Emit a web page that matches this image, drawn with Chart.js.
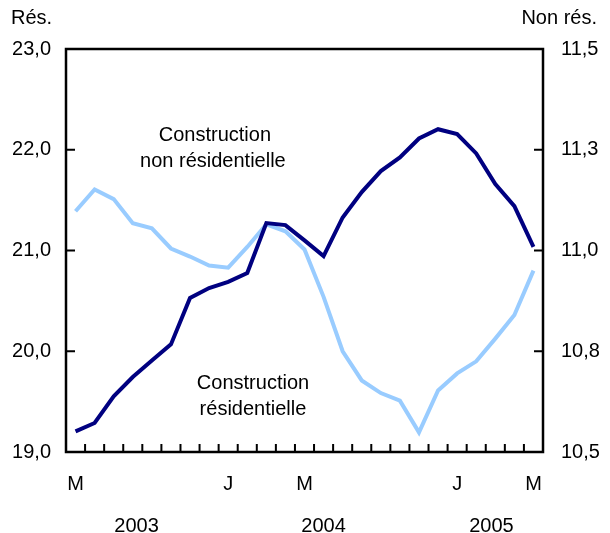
<!DOCTYPE html>
<html>
<head>
<meta charset="utf-8">
<script src="https://cdn.jsdelivr.net/npm/chart.js@4"></script>
<style>
  body { margin: 0; background: #fff; }
  canvas { display: block; }
</style>
</head>
<body>
<canvas id="chart" width="610" height="533"></canvas>
<script>
// --- data (May 2003 - May 2005, monthly) ---
const monthLabels = ["M", "", "", "", "", "", "", "", "J", "", "", "", "M", "", "", "", "", "", "", "", "J", "", "", "", "M"];
const years = ["2003", "2004", "2005"];
const yearCenters = [3.2, 13, 21.8]; // category index where each year label sits

const nonRes = [10.551, 10.572, 10.638, 10.686, 10.727, 10.767, 10.882, 10.907, 10.922, 10.944,
  11.068, 11.063, 11.025, 10.986, 11.082, 11.145, 11.197, 11.231, 11.278, 11.301,
  11.289, 11.241, 11.165, 11.110, 11.009];
const res = [21.39, 21.605, 21.51, 21.27, 21.22, 21.02, 20.94, 20.85, 20.83, 21.035,
  21.26, 21.19, 21.01, 20.54, 20.00, 19.71, 19.585, 19.51, 19.195, 19.61,
  19.78, 19.90, 20.125, 20.36, 20.80];

const leftTicks = [19, 20, 21, 22, 23];
const rightTicks = [10.5, 10.75, 11, 11.25, 11.5];

const FAMILY = "'Liberation Sans', Arial, sans-serif";
const SIZE = 20;
const FONT = SIZE + "px " + FAMILY;
const fmt = (v) => v.toFixed(1).replace(".", ",");

// --- frame, inward ticks, year labels and text notes ---
const decorations = {
  id: "decorations",
  afterDraw(chart) {
    const { ctx, chartArea: a, scales } = chart;
    const x = scales.x, yl = scales.y, yr = scales.y1;
    ctx.save();
    ctx.strokeStyle = "#000";
    ctx.lineWidth = 2.5;
    ctx.strokeRect(a.left, a.top, a.right - a.left, a.bottom - a.top);

    ctx.lineWidth = 2;
    ctx.beginPath();
    for (let i = 0; i < monthLabels.length - 1; i++) {
      const px = (x.getPixelForValue(i) + x.getPixelForValue(i + 1)) / 2;
      ctx.moveTo(px, a.bottom);
      ctx.lineTo(px, a.bottom - 8);
    }
    leftTicks.forEach((v) => {
      const py = yl.getPixelForValue(v);
      ctx.moveTo(a.left, py);
      ctx.lineTo(a.left + 9, py);
    });
    rightTicks.forEach((v) => {
      const py = yr.getPixelForValue(v);
      ctx.moveTo(a.right, py);
      ctx.lineTo(a.right - 9, py);
    });
    ctx.stroke();

    ctx.fillStyle = "#000";
    ctx.font = FONT;
    ctx.textBaseline = "middle";
    ctx.textAlign = "center";
    years.forEach((yr, i) => ctx.fillText(yr, x.getPixelForValue(yearCenters[i]), 526));

    // series notes
    const nx = x.getPixelForValue(7.2), ny = yl.getPixelForValue(22.14);
    ctx.fillText("Construction", nx + 2, ny);
    ctx.fillText("non résidentielle", nx, ny + 26);
    const rx = x.getPixelForValue(9.3), ry = yl.getPixelForValue(19.68);
    ctx.fillText("Construction", rx, ry);
    ctx.fillText("résidentielle", rx, ry + 26);

    ctx.textAlign = "left";
    ctx.fillText("Rés.", 11, 18);
    ctx.textAlign = "right";
    ctx.fillText("Non rés.", 597, 18);
    ctx.restore();
  },
};

new Chart(document.getElementById("chart"), {
  type: "line",
  data: {
    labels: monthLabels,
    datasets: [
      {
        label: "Construction non résidentielle",
        data: nonRes,
        yAxisID: "y1",
        borderColor: "#000080",
        borderWidth: 4,
        pointRadius: 0,
        tension: 0,
        borderJoinStyle: "miter",
      },
      {
        label: "Construction résidentielle",
        data: res,
        yAxisID: "y",
        borderColor: "#99ccff",
        borderWidth: 4,
        pointRadius: 0,
        tension: 0,
        borderJoinStyle: "miter",
      },
    ],
  },
  options: {
    responsive: false,
    animation: false,
    layout: { padding: { top: 49, left: 0, right: 0, bottom: 0 } },
    plugins: { legend: { display: false }, tooltip: { enabled: false } },
    scales: {
      x: {
        offset: true,
        grid: { display: false, drawTicks: false },
        border: { display: false },
        ticks: {
          autoSkip: false,
          maxRotation: 0,
          padding: 20,
          color: "#000",
          font: { family: FAMILY, size: SIZE },
        },
        afterFit: (s) => { s.height = 81; },
      },
      y: {
        position: "left",
        min: 19,
        max: 23,
        grid: { display: false, drawTicks: false },
        border: { display: false },
        afterBuildTicks: (s) => { s.ticks = leftTicks.map((v) => ({ value: v })); },
        ticks: {
          padding: 15,
          color: "#000",
          font: { family: FAMILY, size: SIZE },
          callback: (v) => fmt(v),
        },
        afterFit: (s) => { s.width = 66; },
      },
      y1: {
        position: "right",
        min: 10.5,
        max: 11.5,
        grid: { display: false, drawTicks: false },
        border: { display: false },
        afterBuildTicks: (s) => { s.ticks = rightTicks.map((v) => ({ value: v })); },
        ticks: {
          padding: 18,
          color: "#000",
          font: { family: FAMILY, size: SIZE },
          callback: (v) => fmt(v),
        },
        afterFit: (s) => { s.width = 67; },
      },
    },
  },
  plugins: [decorations],
});
</script>
</body>
</html>
